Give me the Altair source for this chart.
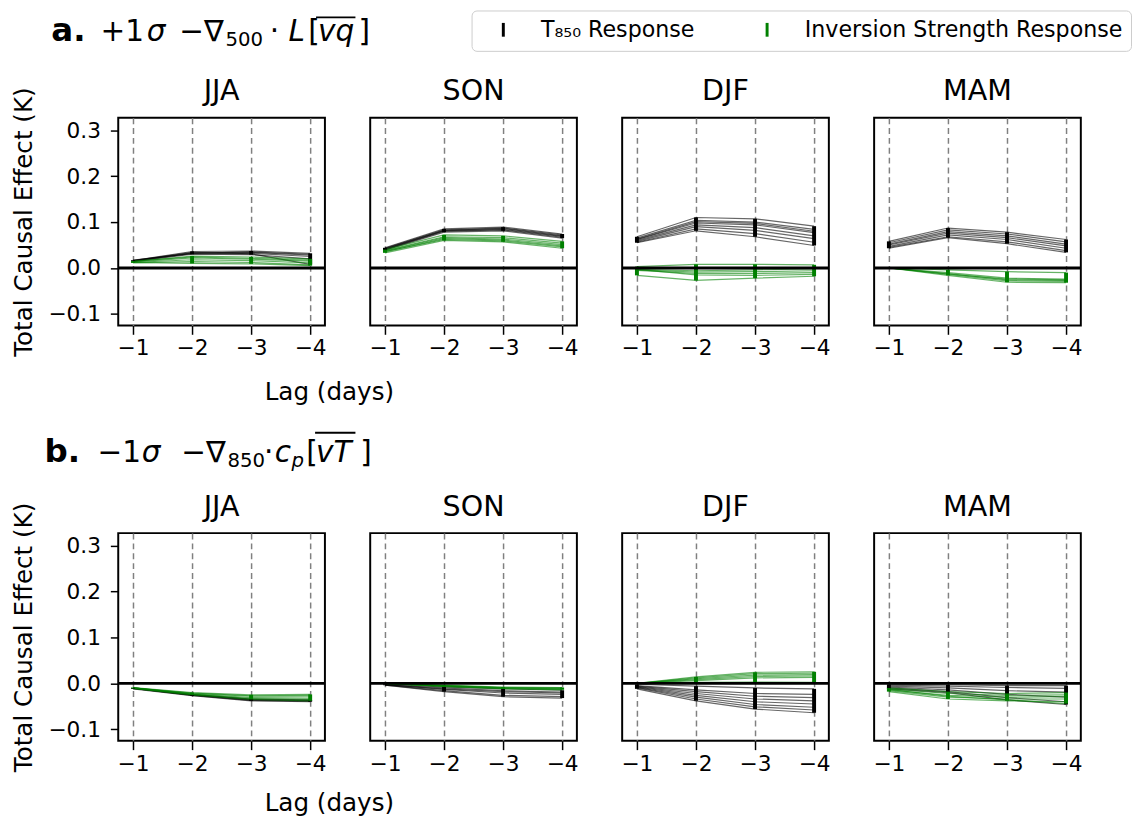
import altair as alt
import pandas as pd

LAGS = [-1, -2, -3, -4]
SEASONS = ["JJA", "SON", "DJF", "MAM"]
SERIES = ["T₈₅₀ Response", "Inversion Strength Response"]
COLORS = ["#000000", "#008000"]
Y_TICKS = [-0.1, 0.0, 0.1, 0.2, 0.3]

# ---- row a: +1 sigma -div500 L[vq] ; each inner list = one ensemble member at lags -1..-4
A_JJA_T = [[0.016, 0.036, 0.037, 0.032], [0.015, 0.033, 0.034, 0.028], [0.017, 0.031, 0.032, 0.025],
           [0.014, 0.030, 0.029, 0.020], [0.016, 0.034, 0.031, 0.008], [0.015, 0.032, 0.035, 0.030]]
A_JJA_I = [[0.014, 0.026, 0.024, 0.020], [0.013, 0.022, 0.019, 0.015], [0.012, 0.018, 0.016, 0.011],
           [0.011, 0.014, 0.012, 0.007], [0.015, 0.024, 0.021, 0.017], [0.012, 0.010, 0.009, 0.005]]
A_SON_T = [[0.042, 0.082, 0.086, 0.070], [0.040, 0.080, 0.083, 0.067], [0.044, 0.085, 0.089, 0.074],
           [0.039, 0.078, 0.081, 0.065], [0.043, 0.083, 0.087, 0.072], [0.041, 0.081, 0.084, 0.069]]
A_SON_I = [[0.038, 0.068, 0.066, 0.054], [0.035, 0.064, 0.061, 0.048], [0.040, 0.072, 0.070, 0.058],
           [0.033, 0.060, 0.057, 0.043], [0.037, 0.066, 0.063, 0.051], [0.036, 0.062, 0.059, 0.046]]
A_DJF_T = [[0.068, 0.110, 0.107, 0.091], [0.065, 0.104, 0.100, 0.084], [0.062, 0.098, 0.094, 0.077],
           [0.060, 0.094, 0.088, 0.070], [0.058, 0.090, 0.082, 0.064], [0.056, 0.085, 0.075, 0.056],
           [0.055, 0.081, 0.068, 0.049], [0.063, 0.101, 0.097, 0.080]]
A_DJF_I = [[0.003, 0.008, 0.008, 0.007], [-0.003, -0.006, -0.004, -0.002], [-0.004, -0.009, -0.008, -0.006],
           [-0.005, -0.012, -0.012, -0.010], [-0.003, -0.015, -0.016, -0.014], [-0.016, -0.027, -0.022, -0.018]]
A_MAM_T = [[0.058, 0.087, 0.078, 0.062], [0.055, 0.083, 0.074, 0.057], [0.052, 0.079, 0.070, 0.052],
           [0.050, 0.076, 0.066, 0.048], [0.047, 0.072, 0.062, 0.043], [0.045, 0.068, 0.057, 0.038],
           [0.043, 0.066, 0.053, 0.034]]
A_MAM_I = [[0.000, -0.004, -0.008, -0.010], [0.000, -0.010, -0.022, -0.024], [0.000, -0.012, -0.026, -0.027],
           [0.000, -0.014, -0.028, -0.029], [0.000, -0.016, -0.031, -0.032], [0.000, -0.013, -0.024, -0.026]]

# ---- row b: -1 sigma -div850 cp[vT]
B_JJA_T = [[-0.010, -0.024, -0.034, -0.036], [-0.011, -0.025, -0.036, -0.038], [-0.011, -0.026, -0.037, -0.039],
           [-0.012, -0.027, -0.038, -0.040], [-0.010, -0.025, -0.035, -0.037]]
B_JJA_I = [[-0.009, -0.020, -0.025, -0.024], [-0.010, -0.022, -0.028, -0.028], [-0.010, -0.023, -0.031, -0.032],
           [-0.011, -0.024, -0.033, -0.035], [-0.011, -0.025, -0.035, -0.038], [-0.010, -0.021, -0.027, -0.026]]
B_SON_T = [[-0.002, -0.008, -0.012, -0.015], [-0.003, -0.010, -0.016, -0.019], [-0.003, -0.013, -0.021, -0.024],
           [-0.004, -0.016, -0.026, -0.029], [-0.004, -0.018, -0.029, -0.032], [-0.003, -0.012, -0.018, -0.021]]
B_SON_I = [[0.000, -0.004, -0.008, -0.009], [0.000, -0.005, -0.009, -0.010], [0.000, -0.006, -0.010, -0.011],
           [0.000, -0.007, -0.011, -0.013], [0.000, -0.005, -0.010, -0.012], [0.000, -0.006, -0.012, -0.014]]
B_DJF_T = [[-0.002, -0.006, -0.010, -0.012], [-0.005, -0.014, -0.022, -0.024], [-0.006, -0.018, -0.028, -0.031],
           [-0.007, -0.022, -0.034, -0.038], [-0.008, -0.026, -0.040, -0.045], [-0.009, -0.030, -0.046, -0.052],
           [-0.010, -0.034, -0.051, -0.058], [-0.012, -0.038, -0.056, -0.064]]
B_DJF_I = [[0.000, 0.002, 0.003, 0.002], [0.000, 0.008, 0.015, 0.016], [0.000, 0.010, 0.018, 0.019],
           [0.000, 0.012, 0.021, 0.022], [0.000, 0.014, 0.024, 0.025], [0.000, 0.006, 0.012, 0.013]]
B_MAM_T = [[-0.002, -0.003, -0.005, -0.005], [-0.004, -0.006, -0.009, -0.011], [-0.006, -0.010, -0.016, -0.019],
           [-0.008, -0.014, -0.024, -0.030], [-0.010, -0.018, -0.031, -0.040], [-0.012, -0.020, -0.036, -0.046]]
B_MAM_I = [[-0.010, -0.018, -0.022, -0.020], [-0.012, -0.022, -0.026, -0.025], [-0.014, -0.026, -0.030, -0.029],
           [-0.016, -0.030, -0.034, -0.034], [-0.018, -0.034, -0.038, -0.040], [-0.013, -0.028, -0.036, -0.044]]

ROW_A = {"JJA": (A_JJA_T, A_JJA_I), "SON": (A_SON_T, A_SON_I), "DJF": (A_DJF_T, A_DJF_I), "MAM": (A_MAM_T, A_MAM_I)}
ROW_B = {"JJA": (B_JJA_T, B_JJA_I), "SON": (B_SON_T, B_SON_I), "DJF": (B_DJF_T, B_DJF_I), "MAM": (B_MAM_T, B_MAM_I)}

# heading text pieces (label, then the formula split where the style changes)
HEAD_A_TEXT = ["a.", "+1", "σ", "−∇", "500", "·", "L", "[", "vq", "]"]
HEAD_B_TEXT = ["b.", "−1", "σ", "−∇", "850", "·", "c", "p", "[", "vT", "]"]

# ---------------- layout / style (pixels) ----------------
FONT = "DejaVu Sans"
W, H = 210, 211
PANEL_LEFT = 118
# (page x, kind) for each heading piece; kind: B=bold label, N=normal, I=italic, S=subscript, SI=italic subscript
HEAD_A_POS = [(50, "B"), (100, "N"), (147, "I"), (180, "N"), (227, "S"), (272, "N"), (291, "I"),
              (311, "N"), (321, "I"), (362, "N")]
HEAD_B_POS = [(43, "B"), (97, "N"), (142, "I"), (182, "N"), (229, "S"), (266, "N"), (277, "I"),
              (294, "SI"), (309, "N"), (319, "I"), (364, "N")]
# overline over the averaged product: (page x1, page x2, y relative to the panel top)
OVER_A = (319, 359, -102)
OVER_B = (318, 359, -102)

color_scale = alt.Scale(domain=SERIES, range=COLORS)
legend = alt.Legend(
    title=None, orient="none", legendX=359, legendY=-109, direction="horizontal",
    symbolType="M0,-1L0,1", symbolSize=196, symbolStrokeWidth=3, symbolOpacity=1,
    labelFontSize=22.5, labelFont=FONT, labelColor="black", labelLimit=600, columnPadding=49,
    labelOffset=27, padding=8, strokeColor="#cccccc", cornerRadius=5, fillColor="white",
    symbolOffset=13,
)
y_scale = alt.Scale(domain=[-0.125, 0.327], nice=False, zero=False)
x_scale = alt.Scale(domain=[-4.25, -0.75], reverse=True, nice=False, zero=False)


def panel_df(members_t, members_i):
    rows = []
    for s_idx, members in enumerate((members_t, members_i)):
        for m_idx, vals in enumerate(members):
            for lag, v in zip(LAGS, vals):
                rows.append({"series": SERIES[s_idx], "order": s_idx, "member": f"{s_idx}-{m_idx}",
                             "lag": lag, "value": v})
    return pd.DataFrame(rows)


def text_layer(txt, x, y, size, weight="normal", style="normal", align="left"):
    return alt.Chart(pd.DataFrame({"t": [txt]})).mark_text(
        align=align, baseline="alphabetic", fontSize=size, fontWeight=weight, fontStyle=style,
        font=FONT, color="black",
    ).encode(text="t:N", x=alt.value(x), y=alt.value(y))


def heading_layers(texts, positions, base_y, over):
    out = []
    for txt, (px, kind) in zip(texts, positions):
        x = px - PANEL_LEFT
        if kind == "B":
            out.append(text_layer(txt, x, base_y, 33, weight="bold"))
        elif kind == "N":
            out.append(text_layer(txt, x, base_y, 30))
        elif kind == "I":
            out.append(text_layer(txt, x, base_y, 30, style="italic"))
        elif kind == "S":
            out.append(text_layer(txt, x, base_y + 5, 20))
        else:
            out.append(text_layer(txt, x, base_y + 5, 20, style="italic"))
    x1, x2, oy = over
    out.append(alt.Chart(pd.DataFrame({"o": [0]})).mark_rule(color="black", strokeWidth=2).encode(
        x=alt.value(x1 - PANEL_LEFT), x2=alt.value(x2 - PANEL_LEFT), y=alt.value(oy)))
    return out


def panel(season, members, first, heading=None, lag_title_y=72):
    df = panel_df(*members)
    x_axis = alt.Axis(
        values=LAGS, format="d", grid=True, gridDash=[6, 4], gridColor="#808080", gridWidth=1.5,
        domain=False, tickSize=9, tickWidth=1.5, tickColor="black", labelFontSize=22,
        labelFont=FONT, labelColor="black", labelPadding=4,
        title="Lag (days)" if first else "", titleFontSize=25, titleFont=FONT,
        titleFontWeight="normal", titleX=214, titleY=lag_title_y, titleBaseline="alphabetic",
        titleAlign="center", titleColor="black",
    )
    if first:
        y_axis = alt.Axis(
            values=Y_TICKS, format=".1f", grid=False, domain=False, tickSize=8, tickWidth=1.5,
            tickColor="black", labelFontSize=22, labelFont=FONT, labelColor="black", labelPadding=10,
            title="Total Causal Effect (K)", titleFontSize=25, titleFont=FONT,
            titleFontWeight="normal", titlePadding=12, titleColor="black",
        )
    else:
        y_axis = None

    color = alt.Color("series:N", scale=color_scale, legend=legend)
    base = alt.Chart(df)

    lines = base.mark_line(strokeWidth=1.2, opacity=0.6).encode(
        x=alt.X("lag:Q", scale=x_scale, axis=x_axis),
        y=alt.Y("value:Q", scale=y_scale, axis=y_axis),
        color=color, detail="member:N", order=alt.Order("lag:Q"),
    )
    bars = base.transform_aggregate(
        lo="min(value)", hi="max(value)", groupby=["series", "lag", "order"]
    ).mark_rule(strokeWidth=4).encode(
        x=alt.X("lag:Q", scale=x_scale, axis=x_axis),
        y=alt.Y("lo:Q", scale=y_scale, axis=y_axis),
        y2="hi:Q", color=color,
    )
    zero = alt.Chart(pd.DataFrame({"value": [0.0]})).mark_rule(color="black", strokeWidth=3).encode(
        y=alt.Y("value:Q", scale=y_scale, axis=y_axis))
    layers = [lines, bars, zero, text_layer(season, W / 2, -17.7, 29, align="center")]
    if heading is not None:
        layers += heading
    return alt.layer(*layers).properties(width=W, height=H)


def make_row(data, heading, lag_title_y):
    return alt.hconcat(
        *[panel(s, data[s], i == 0, heading if i == 0 else None, lag_title_y) for i, s in enumerate(SEASONS)],
        spacing=46, bounds="flush",
    )


# with flush bounds the nested rows count as zero-height, so the spacing is origin-to-origin
chart = alt.vconcat(
    make_row(ROW_A, heading_layers(HEAD_A_TEXT, HEAD_A_POS, -77.7, OVER_A), 75),
    make_row(ROW_B, heading_layers(HEAD_B_TEXT, HEAD_B_POS, -72.3, OVER_B), 71),
    spacing=422, bounds="flush",
).properties(padding={"left": 2, "top": -5, "right": 0, "bottom": 0}).configure(font=FONT).configure_view(
    stroke="black", strokeWidth=2)

chart.save("out.html", embed_options={"renderer": "svg", "actions": False})
